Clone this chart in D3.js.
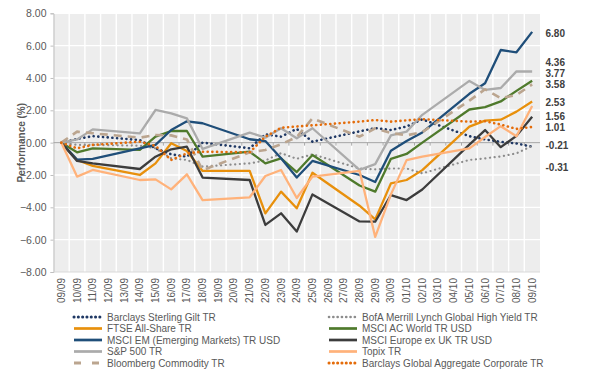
<!DOCTYPE html>
<html><head><meta charset="utf-8">
<script src="https://cdn.jsdelivr.net/npm/d3@7"></script>
<style>
html,body{margin:0;padding:0;background:#fff;}
svg{display:block;font-family:"Liberation Sans",Arial,sans-serif;}
</style></head>
<body><svg id="c" width="590" height="375"></svg>
<script>
const categories = ["09/09","10/09","11/09","12/09","13/09","14/09","15/09","16/09","17/09","18/09","19/09","20/09","21/09","22/09","23/09","24/09","25/09","26/09","27/09","28/09","29/09","30/09","01/10","02/10","03/10","04/10","05/10","06/10","07/10","08/10","09/10"];
const tradingDays = ["09/09","10/09","11/09","14/09","15/09","16/09","17/09","18/09","21/09","22/09","23/09","24/09","25/09","28/09","29/09","30/09","01/10","02/10","05/10","06/10","07/10","08/10","09/10"];
const yTicks = [8,6,4,2,0,-2,-4,-6,-8];

const barclaysGilt   = [0,0.23,0.40,0.16,-0.35,-0.72,-0.87,0.00,-0.35,0.52,0.37,0.85,0.06,0.70,0.90,0.78,1.00,1.44,0.40,0.20,0.05,-0.05,-0.25];
const bofaHighYield  = [0,-0.14,-0.14,-0.19,-0.35,-0.97,-1.07,-1.48,-1.28,-1.10,-0.65,-1.00,-0.72,-1.60,-1.65,-1.60,-1.60,-1.90,-1.07,-0.97,-0.85,-0.66,-0.20];
const ftseAllShare   = [0,-1.07,-1.44,-2.00,-1.28,-0.04,-0.52,-1.75,-1.75,-4.37,-3.03,-4.06,-1.86,-3.90,-4.75,-2.52,-2.31,-1.70,0.99,1.36,1.42,1.92,2.55];
const msciAcWorld    = [0,-0.60,-0.35,-0.45,0.37,0.72,0.72,-0.87,-0.56,-1.28,-0.97,-1.82,-0.76,-2.65,-3.03,-1.00,-0.70,0.00,2.05,2.20,2.55,3.20,3.83];
const msciEm         = [0,-1.05,-1.00,-0.35,-0.14,0.78,1.32,1.20,0.21,0.10,-0.97,-2.16,-1.13,-2.00,-2.43,-0.50,0.10,0.63,3.02,3.67,5.73,5.59,6.85];
const msciEurope     = [0,-1.13,-1.28,-1.63,-0.87,-0.41,-0.25,-2.16,-2.31,-5.09,-4.37,-5.50,-3.20,-4.87,-4.89,-3.24,-3.55,-2.90,-0.12,0.78,-0.28,0.42,1.60];
const sp500          = [0,0.20,0.82,0.58,2.02,1.81,1.50,-0.39,0.62,0.31,0.89,0.27,0.89,-1.68,-1.33,0.45,0.68,1.72,3.82,3.26,3.38,4.41,4.40];
const topix          = [0,-2.10,-1.69,-2.31,-2.27,-2.89,-1.96,-3.55,-3.38,-2.06,-1.69,-3.42,-2.10,-1.74,-5.83,-3.20,-1.08,-0.87,-0.35,0.35,1.02,0.40,2.27];
const bbgCommodity   = [0,0.68,0.58,0.31,0.47,0.45,0.20,-1.70,-0.60,-0.45,-0.10,0.35,1.50,0.37,0.89,0.60,0.45,0.65,2.60,3.30,2.75,2.95,3.60];
const barclaysAggCorp= [0,-0.35,-0.14,0.06,-0.20,-1.07,-0.66,-0.56,-0.60,0.37,0.92,1.00,1.07,1.30,1.40,1.30,1.38,1.45,1.30,1.32,1.12,0.85,0.97];

const seriesNames = ["Barclays Sterling Gilt TR","BofA Merrill Lynch Global High Yield TR","FTSE All-Share TR","MSCI AC World TR USD","MSCI EM (Emerging Markets) TR USD","MSCI Europe ex UK TR USD","S&P 500 TR","Topix TR","Bloomberg Commodity TR","Barclays Global Aggregate Corporate TR"];
const seriesValues = [barclaysGilt,bofaHighYield,ftseAllShare,msciAcWorld,msciEm,msciEurope,sp500,topix,bbgCommodity,barclaysAggCorp];

const endLabels = ["6.80","4.36","3.77","3.58","2.53","1.56","1.01","-0.21","-0.31"];

// styles (not data)
const styles = [
  {color:"#1F3864", w:2.6, dash:"0.1 4.6", cap:"round"},
  {color:"#8C8C8C", w:2.2, dash:"0.1 4.6", cap:"round"},
  {color:"#E8900C", w:2.3, dash:null},
  {color:"#4F7A2C", w:2.3, dash:null},
  {color:"#1F4E79", w:2.3, dash:null},
  {color:"#3C3C3C", w:2.3, dash:null},
  {color:"#ABABAB", w:2.3, dash:null},
  {color:"#FFB27A", w:2.3, dash:null},
  {color:"#BBA58F", w:2.6, dash:"8 6"},
  {color:"#E46C0A", w:2.6, dash:"0.1 4.6", cap:"round"}
];
const labelLayoutValues = [6.77,4.97,4.29,3.61,2.48,1.62,0.96,-0.16,-1.54];

const W=590,H=375;
const m={left:53.5,right:50,top:13.3,bottom:103};
const svg=d3.select("#c");
const iw=W-m.left-m.right, ih=H-m.top-m.bottom;
const g=svg.append("g").attr("transform",`translate(${m.left},${m.top})`);

const x=d3.scaleBand().domain(categories).range([0,iw]).padding(0);
const y=d3.scaleLinear().domain([-8,8]).range([ih,0]);
const cx=d=>x(d)+x.bandwidth()/2;

g.append("rect").attr("width",iw).attr("height",ih).attr("fill","#EDEDED");
// vertical gridlines
g.selectAll(".vg").data(categories.slice(1)).join("line")
  .attr("x1",d=>x(d)).attr("x2",d=>x(d)).attr("y1",0).attr("y2",ih)
  .attr("stroke","#fff").attr("stroke-width",1.4);
// horizontal gridlines
g.selectAll(".hg").data(yTicks.filter(v=>v!==0&&v!==-8)).join("line")
  .attr("x1",0).attr("x2",iw).attr("y1",d=>y(d)).attr("y2",d=>y(d))
  .attr("stroke","#fff").attr("stroke-width",1.4);

// y axis
const yAxis=d3.axisLeft(y).tickValues(yTicks).tickFormat(d3.format(".2f")).tickSize(3).tickPadding(4);
const ya=g.append("g").call(yAxis);
ya.select(".domain").attr("stroke","#BFBFBF");
ya.selectAll(".tick line").attr("stroke","#BFBFBF");
ya.selectAll("text").attr("fill","#595959").style("font-size","10.5px");
g.append("line").attr("x1",0).attr("x2",iw).attr("y1",ih).attr("y2",ih).attr("stroke","#D9D9D9");

// zero axis line with category ticks
g.append("line").attr("x1",0).attr("x2",iw).attr("y1",y(0)).attr("y2",y(0)).attr("stroke","#A6A6A6").attr("stroke-width",1);
g.selectAll(".xt").data(categories.slice(1)).join("line")
  .attr("x1",d=>x(d)).attr("x2",d=>x(d)).attr("y1",y(0)).attr("y2",y(0)+3)
  .attr("stroke","#A6A6A6");

// x labels (bottom)
g.selectAll(".xl").data(categories).join("text")
  .attr("transform",d=>`translate(${cx(d)},${ih+6}) rotate(-90)`)
  .attr("text-anchor","end").attr("dy","0.35em")
  .attr("fill","#595959").style("font-size","10px").text(d=>d);

// y title
svg.append("text").attr("transform",`translate(21,${m.top+ih/2}) rotate(-90)`)
  .attr("text-anchor","middle").attr("dy","0.35em")
  .attr("fill","#595959").style("font-size","10px").style("font-weight","bold")
  .text("Performance (%)");

// lines
const line=d3.line().x((d,i)=>cx(tradingDays[i])).y(d=>y(d));
seriesValues.forEach((vals,k)=>{
  const s=styles[k];
  g.append("path").datum(vals).attr("d",line).attr("fill","none")
    .attr("stroke",s.color).attr("stroke-width",s.w)
    .attr("stroke-linejoin","round")
    .attr("stroke-linecap",s.cap||"butt")
    .attr("stroke-dasharray",s.dash);
});

// end labels
g.selectAll(".el").data(endLabels).join("text")
  .attr("x",iw+5.5).attr("y",(d,i)=>y(labelLayoutValues[i])).attr("dy","0.35em")
  .attr("fill","#404040").style("font-size","10px").style("font-weight","bold")
  .text(d=>d);

// legend
const leg=svg.append("g");
seriesNames.forEach((name,k)=>{
  const col=k%2, row=Math.floor(k/2);
  const lx= col===0?74:329, ly=317+row*11.5;
  const s=styles[k];
  leg.append("line").attr("x1",lx).attr("x2",lx+28).attr("y1",ly).attr("y2",ly)
    .attr("stroke",s.color).attr("stroke-width",s.w+0.4)
    .attr("stroke-linecap",s.cap||"butt").attr("stroke-dasharray",s.dash? (k===8?"7 11":"0.1 4.2"):null);
  leg.append("text").attr("x",lx+33).attr("y",ly).attr("dy","0.35em")
    .attr("fill","#595959").style("font-size","10px").text(name);
});
</script></body></html>
